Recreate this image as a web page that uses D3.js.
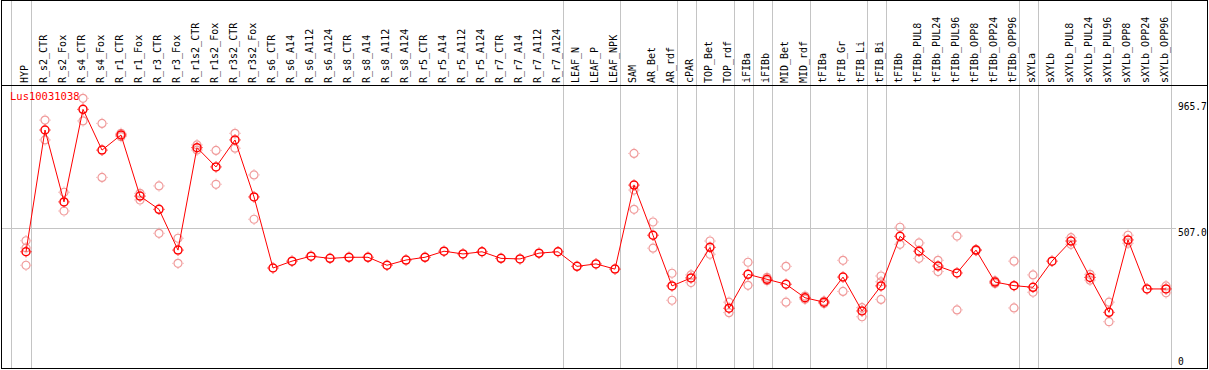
<html>
<head>
  <meta charset="utf-8" />
<style>
  html, body {
    margin: 0;
    padding: 0;
    background: #fff;
  }
  #graph {
    width: 1209px;
    height: 370px;
  }
  text {
    font-family: "DejaVu Sans Mono", monospace;
  }
</style>
</head>
<body>
  <div id="graph"></div>
<script src="https://cdnjs.cloudflare.com/ajax/libs/d3/7.8.5/d3.min.js"></script>
<script>

var geneName = "Lus10031038";

var labels = ["HYP","R_s2_CTR","R_s2_Fox","R_s4_CTR","R_s4_Fox","R_r1_CTR","R_r1_Fox",
  "R_r3_CTR","R_r3_Fox","R_r1s2_CTR","R_r1s2_Fox","R_r3s2_CTR","R_r3s2_Fox","R_s6_CTR",
  "R_s6_A14","R_s6_A112","R_s6_A124","R_s8_CTR","R_s8_A14","R_s8_A112","R_s8_A124",
  "R_r5_CTR","R_r5_A14","R_r5_A112","R_r5_A124","R_r7_CTR","R_r7_A14","R_r7_A112",
  "R_r7_A124","LEAF_N","LEAF_P","LEAF_NPK","SAM","AR_Bet","AR_rdf","cPAR","TOP_Bet",
  "TOP_rdf","iFIBa","iFIBb","MID_Bet","MID_rdf","tFIBa","tFIB_Gr","tFIB_Li","tFIB_Bi",
  "tFIBb","tFIBb_PUL8","tFIBb_PUL24","tFIBb_PUL96","tFIBb_OPP8","tFIBb_OPP24","tFIBb_OPP96",
  "sXYLa","sXYLb","sXYLb_PUL8","sXYLb_PUL24","sXYLb_PUL96","sXYLb_OPP8","sXYLb_OPP24",
  "sXYLb_OPP96"];

// mean expression per sample
var means = [422, 864, 603, 939, 791, 846, 624,
  576, 428, 800, 730, 828, 621, 363,
  388, 406, 398, 402, 402, 373, 392,
  402, 424, 414, 422, 398, 396, 417,
  422, 369, 378, 359, 664, 482, 298, 327, 438,
  217, 340, 322, 304, 255, 239, 330, 207, 298,
  478, 424, 370, 345, 428, 312, 299,
  293, 388, 461, 329, 202, 465, 287,
  287];

// replicates (pale circles), empty where there is only one sample
var reps = [[462, 436, 373], [900, 828], [638, 570], [979, 897], [888, 692], [840, 852], [634, 610],
  [661, 489], [471, 380], [810, 791], [790, 667], [852, 798], [701, 540], [],
  [], [], [], [], [], [], [],
  [], [], [], [], [], [], [],
  [], [], [], [], [779, 646, 576], [530, 435], [344, 246], [338, 310], [461, 413],
  [239, 201], [384, 300], [329, 317], [369, 239], [261, 250], [243, 234], [391, 278], [219, 186], [334, 313, 249],
  [511, 449], [454, 398], [391, 350], [479, 211], [430, 426], [307, 316], [388, 218],
  [338, 275], [], [473, 449], [340, 319], [239, 168], [482, 453], [],
  [298, 273]];

// grey separators drawn after these samples
var sepAfter = ["HYP","R_r7_A124","LEAF_NPK","AR_rdf","cPAR","TOP_rdf","iFIBa","iFIBb",
  "MID_rdf","tFIB_Li","tFIB_Bi","tFIBb_OPP96","sXYLa","sXYLb_OPP96"];

var yTicks = [965.7, 507.0, 0];
var yTickLabels = ["965.7", "507.0", "0"];
var yGrid = [507.0];

var width = 1209, height = 370;
var svg = d3.select("#graph").append("svg")
    .attr("width", width).attr("height", height);

var x = d3.scalePoint().domain(labels).range([26, 1166]);
var y = d3.scaleLinear().domain([0, 965.7]).range([368, 102]);

var grey = "#c4c4c4";

// vertical separators, full height
var seps = [x(labels[0]) - 15].concat(sepAfter.map(function(l) { return x(l) + 4.5; }));
svg.append("g").selectAll("line")
    .data(seps)
    .enter().append("line")
    .attr("x1", function(d) { return Math.round(d) + 0.5; })
    .attr("x2", function(d) { return Math.round(d) + 0.5; })
    .attr("y1", 0).attr("y2", 369)
    .attr("stroke", grey).attr("stroke-width", 1);

// horizontal grid
svg.append("g").selectAll("line")
    .data(yGrid)
    .enter().append("line")
    .attr("x1", 1).attr("x2", 1176)
    .attr("y1", function(d) { return Math.round(y(d)) + 0.5; })
    .attr("y2", function(d) { return Math.round(y(d)) + 0.5; })
    .attr("stroke", grey).attr("stroke-width", 1);

// frame
svg.append("rect")
    .attr("x", 1.5).attr("y", 0.5)
    .attr("width", 1206).attr("height", 368)
    .attr("fill", "none").attr("stroke", "#000").attr("stroke-width", 1);
svg.append("line")
    .attr("x1", 1).attr("x2", 1208)
    .attr("y1", 85.5).attr("y2", 85.5)
    .attr("stroke", "#000").attr("stroke-width", 1.2);

// sample labels, rotated
svg.append("g").selectAll("text")
    .data(labels)
    .enter().append("text")
    .attr("transform", function(d) { return "translate(" + (x(d) + 2) + ",83) rotate(-90)"; })
    .attr("font-size", "10px")
    .attr("fill", "#000")
    .text(function(d) { return d; });

// right axis labels
svg.append("g").selectAll("text")
    .data(yTicks)
    .enter().append("text")
    .attr("x", 1178)
    .attr("y", function(d) { return Math.min(y(d) + 8, 365); })
    .attr("font-size", "9.6px")
    .attr("fill", "#000")
    .text(function(d, i) { return yTickLabels[i]; });

svg.append("text")
    .attr("x", 10).attr("y", 100)
    .attr("font-size", "10.5px")
    .attr("fill", "#ff0000")
    .text(geneName);

// marker: circle with four small ticks
function marker(g, color, sw) {
  g.append("circle").attr("r", 4)
      .attr("fill", "none").attr("stroke", color).attr("stroke-width", sw);
  g.append("path")
      .attr("d", "M0,-5.6V-4.8M0,4.8V5.6M-5.6,0H-4.8M4.8,0H5.6")
      .attr("stroke", color).attr("stroke-width", 1);
}

var repPoints = [];
reps.forEach(function(r, i) {
  r.forEach(function(v) { repPoints.push({label: labels[i], value: v}); });
});

svg.append("g").selectAll("g")
    .data(repPoints)
    .enter().append("g")
    .attr("transform", function(d) { return "translate(" + x(d.label) + "," + y(d.value) + ")"; })
    .each(function() { marker(d3.select(this), "#f09a9a", 1.2); });

var line = d3.line()
    .x(function(d, i) { return x(labels[i]); })
    .y(function(d) { return y(d); });

svg.append("path")
    .datum(means)
    .attr("d", line)
    .attr("fill", "none")
    .attr("stroke", "#ff0000")
    .attr("stroke-width", 1);

svg.append("g").selectAll("g")
    .data(means)
    .enter().append("g")
    .attr("transform", function(d, i) { return "translate(" + x(labels[i]) + "," + y(d) + ")"; })
    .each(function() { marker(d3.select(this), "#ff0000", 1.5); });

</script>
</body>
</html>
